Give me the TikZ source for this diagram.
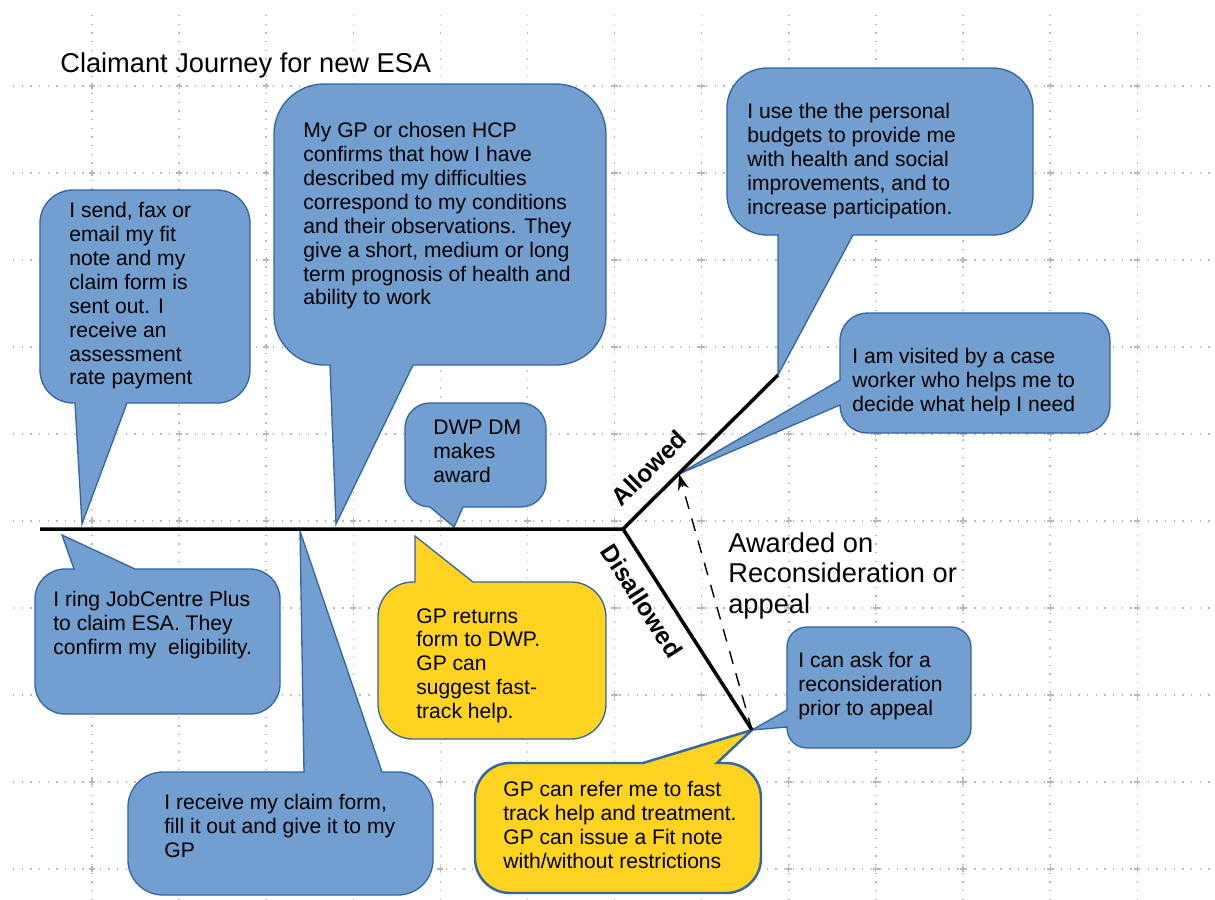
\documentclass[tikz,border=0pt]{standalone}
\usepackage{fontspec}
\setmainfont{Liberation Sans}
\usetikzlibrary{arrows.meta}
\definecolor{bubbleblue}{RGB}{114,159,207}
\definecolor{bubbleline}{RGB}{52,101,164}
\definecolor{bubbleyellow}{RGB}{255,211,32}
\definecolor{gridgrey}{RGB}{185,185,185}
\tikzset{
	bubble/.style={draw=bubbleline, fill=bubbleblue, line width=0.75pt},
	yellowbubble/.style={bubble, fill=bubbleyellow},
	bubbletext/.style={anchor=north west, align=left, inner sep=0pt, font=\fontsize{12}{13.6}\selectfont},
	bigtext/.style={anchor=north west, align=left, inner sep=0pt, font=\fontsize{15.5}{17.5}\selectfont},
	branchlabel/.style={inner sep=0pt, font=\fontsize{14}{16}\selectfont\bfseries},
	gridline/.style={draw=gridgrey, line width=0.8pt, dash pattern=on 0.8pt off 4.13pt},
	gridcross/.style={draw=gridgrey, line width=0.6pt},
	spine/.style={line width=2pt, line join=miter},
}
\begin{document}
\begin{tikzpicture}[x=0.02cm, y=-0.02cm]
	% Background and grid:
	\useasboundingbox (0,0) rectangle (1215,900);
	\fill[white] (0,0) rectangle (1215,900);
	\foreach \gx in {0,...,12}
		\draw[gridline] ({92+87.1*\gx},15) -- ({92+87.1*\gx},900);
	\foreach \gy in {0,...,9}
		\draw[gridline] (13,{86+87*\gy}) -- (1215,{86+87*\gy});
	\foreach \gx in {0,...,12}
		\foreach \gy in {0,...,9}
			\draw[gridcross] ({92+87.1*\gx},{86+87*\gy}) +(-3,0) -- +(3,0) +(0,-3) -- +(0,3);

	% Spine points:
	\coordinate (start) at (40,529);
	\coordinate (fork) at (623,529);
	\coordinate (allowEnd) at (778,375);
	\coordinate (disallowEnd) at (752,730);
	\coordinate (awardPt) at (679,474);

	% Callouts above the spine:
	\draw[bubble] (75,403) -- (82,524) -- (127,403) [rounded corners=0.66cm] -- (250,403) -- (250,190) -- (40,190) -- (40,403) [sharp corners] -- cycle;
	\draw[bubble] (330,365) -- (336,524) -- (413,365) [rounded corners=1cm] -- (606,365) -- (606,84) -- (274,84) -- (274,365) [sharp corners] -- cycle;
	\draw[bubble] (430,507) -- (454,527) -- (463,507) [rounded corners=0.5cm] -- (546,507) -- (546,403) -- (405,403) -- (405,507) [sharp corners] -- cycle;
	\draw[bubble] (778,235) -- (allowEnd) -- (853,235) [rounded corners=0.8cm] -- (1033,235) -- (1033,68) -- (727,68) -- (727,235) [sharp corners] -- cycle;
	\draw[bubble] (840,380) -- (awardPt) -- (840,405) [rounded corners=0.55cm] -- (840,433) -- (1110,433) -- (1110,313) -- (840,313) [sharp corners] -- cycle;

	% Callouts below the spine:
	\draw[bubble] (74,569) -- (62,535) -- (135,569) [rounded corners=0.6cm] -- (280,569) -- (280,714) -- (35,714) -- (35,569) [sharp corners] -- cycle;
	\draw[bubble] (304,772) -- (300,531) -- (382,772) [rounded corners=0.7cm] -- (433,772) -- (433,895) -- (128,895) -- (128,772) [sharp corners] -- cycle;
	\draw[yellowbubble] (415,582) -- (415,536) -- (473,582) [rounded corners=0.7cm] -- (606,582) -- (606,739) -- (378,739) -- (378,582) [sharp corners] -- cycle;
	\draw[yellowbubble, line width=1.4pt] (643,763) -- (disallowEnd) -- (717,763) [rounded corners=0.7cm] -- (761,763) -- (761,893) -- (475,893) -- (475,763) [sharp corners] -- cycle;
	\draw[bubble] (787,710) -- (disallowEnd) -- (787,727) [rounded corners=0.4cm] -- (787,748) -- (971,748) -- (971,627) -- (787,627) [sharp corners] -- cycle;

	% Texts:
	\node[bigtext] (title) at (60,52) {Claimant Journey for new ESA};
	\node[bubbletext] (sendText) at (69,202) {I send, fax or\\email my fit\\note and my\\claim form is\\sent out. I\\receive an\\assessment\\rate payment};
	\node[bubbletext] (hcpText) at (303,122) {My GP or chosen HCP\\confirms that how I have\\described my difficulties\\correspond to my conditions\\and their observations. They\\give a short, medium or long\\term prognosis of health and\\ability to work};
	\node[bubbletext] (dwpText) at (433,420) {DWP DM\\makes\\award};
	\node[bubbletext] (budgetText) at (747,103) {I use the the personal\\budgets to provide me\\with health and social\\improvements, and to\\increase participation.};
	\node[bubbletext] (visitText) at (852,348) {I am visited by a case\\worker who helps me to\\decide what help I need};
	\node[bubbletext] (ringText) at (53,591) {I ring JobCentre Plus\\to claim ESA. They\\confirm my~ eligibility.};
	\node[bubbletext] (receiveText) at (164,794) {I receive my claim form,\\fill it out and give it to my\\GP};
	\node[bubbletext] (returnText) at (416,608) {GP returns\\form to DWP.\\GP can\\suggest fast-\\track help.};
	\node[bubbletext] (referText) at (503,781) {GP can refer me to fast\\track help and treatment.\\GP can issue a Fit note\\with/without restrictions};
	\node[bubbletext] (askText) at (798,652) {I can ask for a\\reconsideration\\prior to appeal};
	\node[bigtext] (awardText) at (728,532) {Awarded on\\Reconsideration or\\appeal};

	% Spine and branches:
	\draw[spine] (start) -- (fork) -- (allowEnd);
	\draw[spine] (fork) -- (disallowEnd);
	\node[branchlabel, rotate=44.8] (allowLabel) at (649,468) {Allowed};
	\node[branchlabel, rotate=-57.3] (disallowLabel) at (642,601) {Disallowed};
	\draw[line width=0.8pt, dash pattern=on 0.26cm off 0.2cm, -{Stealth[length=0.32cm, width=0.22cm]}] (disallowEnd) -- (awardPt);
\end{tikzpicture}
\end{document}
